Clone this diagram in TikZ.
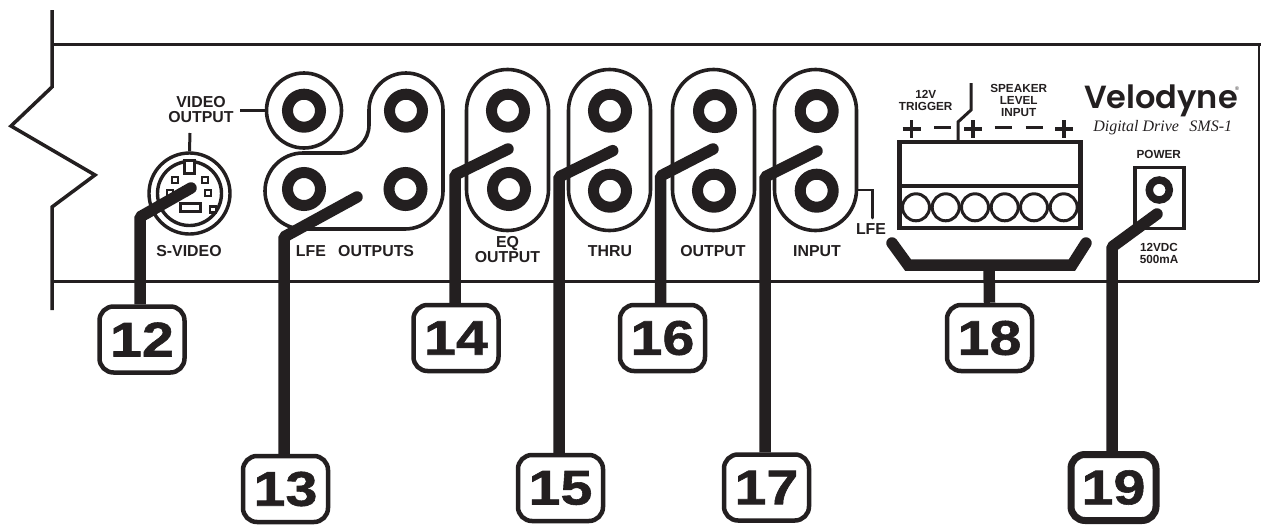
\documentclass[tikz,border=0pt]{standalone}
\usepackage{fontspec}
\usetikzlibrary{calc}
\setmainfont{Liberation Sans}
\newfontfamily\numfont[FakeStretch=1.18,FakeBold=1.2]{Liberation Sans Bold}
\newfontfamily\logofont{Poppins SemiBold}
\newfontfamily\italfont{Liberation Serif Italic}
\definecolor{ink}{HTML}{231F20}
\newlength\pxu \setlength\pxu{0.75pt}
\tikzset{
  ink lines/.style={draw=ink,line width=3.5\pxu},
  thin ink/.style={draw=ink,line width=2.6\pxu},
  leader/.style={draw=ink,line width=11.5\pxu,line join=bevel},
  tipped/.style={leader,line cap=round},
  jack/.style={circle,draw=ink,fill=white,line width=11\pxu,minimum size=33\pxu,inner sep=0pt},
  pill/.style={draw=ink,line width=3.6\pxu,rounded corners=41\pxu},
  label/.style={font=\fontsize{11.9}{11.3}\selectfont\bfseries,text=ink,inner sep=0pt,align=center},
  smalllabel/.style={font=\fontsize{8.8}{9}\selectfont\bfseries,text=ink,inner sep=0pt,align=center},
  numbox/.style={draw=ink,line width=4.5\pxu,rounded corners=14\pxu,fill=white,minimum width=85\pxu,minimum height=66\pxu,inner sep=0pt,font=\numfont\fontsize{36.5}{36.5}\selectfont,text=ink},
  screw/.style={circle,draw=ink,line width=3\pxu,minimum size=27\pxu,inner sep=0pt},
  pin/.style={draw=ink,line width=2.4\pxu,fill=white,minimum size=6\pxu,inner sep=0pt},
  sign/.style={draw=ink,line width=3.4\pxu},
}
\begin{document}
\begin{tikzpicture}[x=0.75pt,y=-0.75pt]
\useasboundingbox (0,0) rectangle (1261,525);
% chassis
\coordinate (a0) at (52,10); \coordinate (a1) at (52,87); \coordinate (a2) at (11,126);
\coordinate (a3) at (95,175); \coordinate (a4) at (52,207); \coordinate (a5) at (52,310);
\coordinate (t0) at (52,44.5); \coordinate (t1) at (1261,44.5);
\coordinate (b0) at (52,281.5); \coordinate (b1) at (1259,281.5);
\coordinate (r0) at (1259,44.5);
\draw[ink lines,line join=miter] (a0)--(a1)--(a2)--(a3)--(a4)--(a5);
\draw[ink lines] (t0)--(t1);
\draw[ink lines] (b0)--(b1);
\draw[draw=ink,line width=2\pxu] (r0)--(b1);
% video / LFE
\draw[pill,rounded corners=0pt] (304,110.5) circle[radius=37.5];
\draw[draw=ink,line width=3.6\pxu]
  (443,110) arc[start angle=0,end angle=-180,radius=37] -- (369,125)
  arc[start angle=0,end angle=90,radius=28] -- (303,153)
  arc[start angle=270,end angle=90,radius=38] -- (405,229)
  arc[start angle=90,end angle=0,radius=38] -- cycle;
\node[jack] (v1) at (304,110.7) {};
\node[jack] (l1) at (406,110.7) {};
\node[jack] (l2) at (304,189) {};
\node[jack] (l3) at (405.5,189) {};
% pills
\foreach \n/\x in {eq/507.5,thru/609.5,outp/713.5,inp/815.5}{
  \node[pill,minimum width=82\pxu,minimum height=161\pxu,inner sep=0pt,rectangle] (p\n) at (\x,150) {};
}
\node[jack] at (508,110.7) {}; \node[jack] at (509,189) {};
\node[jack] at (610,110.7) {}; \node[jack] at (610,190.7) {};
\node[jack] at (715,111) {}; \node[jack] at (714,190.7) {};
\node[jack] at (816.7,111) {}; \node[jack] at (816.7,190.7) {};
% s-video
\node[circle,draw=ink,line width=3.4\pxu,minimum size=81\pxu,inner sep=0pt] (sv) at (189.5,193.5) {};
\node[circle,draw=ink,line width=3.4\pxu,minimum size=64\pxu,inner sep=0pt] (svi) at (189.5,193.5) {};
\node[draw=ink,line width=3\pxu,fill=white,minimum width=10\pxu,minimum height=13\pxu,inner sep=0pt] (key) at (189.5,167) {};
\node[pin] at (175,180) {}; \node[pin] at (205,180) {};
\node[pin] at (170,193) {}; \node[pin] at (208,193) {};
\node[pin] at (213,209.5) {};
\node[draw=ink,line width=3\pxu,fill=white,minimum width=20\pxu,minimum height=8\pxu,inner sep=0pt] (slot) at (190,207) {};
% labels
\node[label] (vo) at (201,110) {VIDEO\\OUTPUT};
\coordinate (vo1) at (240,110.7); \coordinate (vo2) at (266,110.7);
\draw[ink lines,line width=3\pxu] (vo1)--(vo2);
\coordinate (sv1) at (190,133);
\draw[ink lines,line width=3\pxu] (sv1)--(sv.north);
\node[label] at (189,251) {S-VIDEO};
\node[label] at (355,251) {LFE\hspace{0.5em} OUTPUTS};
\node[label] at (507.5,249.5) {EQ\\OUTPUT};
\node[label] at (610,251) {THRU};
\node[label] at (713,251) {OUTPUT};
\node[label] at (817,251) {INPUT};
\node[label] (lfe) at (871,229) {LFE};
\coordinate (lf0) at (857,190); \coordinate (lf1) at (872.7,190); \coordinate (lf2) at (872.7,218);
\draw[thin ink,line cap=round] (lf0)--(lf1)--(lf2);
% terminal
\node[rectangle,draw=ink,line width=4.5\pxu,minimum width=181\pxu,minimum height=86\pxu,inner sep=0pt] (term) at (990,185) {};
\draw[draw=ink,line width=4.5\pxu] (term.west |- 0,186)--(term.east |- 0,186);
\foreach \x in {916,945.7,975,1004.7,1034,1063.7}{\node[screw] at (\x,207.3) {};}
\foreach \x in {911.7,973,1064}{\draw[sign] (\x-9,129)--(\x+9,129); \draw[sign] (\x,120)--(\x,138);}
\foreach \x in {942.7,1003,1034}{\draw[sign] (\x-8.5,127.7)--(\x+8.5,127.7);}
\coordinate (tr0) at (971,83); \coordinate (tr1) at (971,110); \coordinate (tr2) at (958,122); \coordinate (tr3) at (958,140);
\draw[ink lines,line width=3\pxu] (tr0)--(tr1)--(tr2)--(tr3);
\node[smalllabel] at (925.7,100) {12V\\TRIGGER};
\node[smalllabel] at (1018.7,100) {SPEAKER\\LEVEL\\INPUT};
% logo
\node[inner sep=0pt,text=ink,anchor=base,font=\logofont\fontsize{24}{24}\selectfont] (logo) at (1161,108.5) {Velodyne};
\node[inner sep=0pt,text=ink,font=\fontsize{4}{4}\selectfont] at (1237,89) {®};
\node[inner sep=0pt,text=ink,font=\italfont\fontsize{12}{12}\selectfont] at (1162.7,128) {Digital Drive\hspace{0.4em} SMS-1};
% power
\node[smalllabel] at (1158.7,154) {POWER};
\node[rectangle,draw=ink,line width=3.4\pxu,minimum width=49\pxu,minimum height=61\pxu,inner sep=0pt] (pw) at (1159.5,198) {};
\node[circle,draw=ink,fill=white,line width=7.5\pxu,minimum size=20\pxu,inner sep=0pt] (pj) at (1159.3,190) {};
\node[smalllabel] at (1159,253) {12VDC\\500mA};
% numbers
\node[numbox] (n12) at (142,339.5) {12};
\node[numbox] (n13) at (285.5,489) {13};
\node[numbox] (n14) at (456,338) {14};
\node[numbox] (n15) at (560.5,488) {15};
\node[numbox] (n16) at (662.5,338) {16};
\node[numbox] (n17) at (766.5,487.5) {17};
\node[numbox] (n18) at (989.5,338) {18};
\node[numbox,line width=7\pxu] (n19) at (1113.5,487.5) {19};
% leaders
\coordinate (k12) at (140,217); \coordinate (e12) at (191,188);
\coordinate (k13) at (284,237); \coordinate (e13) at (357,197);
\coordinate (k14) at (455,175); \coordinate (e14) at (508,149);
\coordinate (k15) at (559,177); \coordinate (e15) at (612.7,150.7);
\coordinate (k16) at (660.7,176); \coordinate (e16) at (713,149);
\coordinate (k17) at (765,177); \coordinate (e17) at (817,151);
\coordinate (k19) at (1112,247); \coordinate (e19) at (1157,214);
\foreach \n/\x in {12/140,13/284,14/455,15/559,16/660.7,17/765,19/1112}{
  \draw[leader] (n\n.north -| k\n) -- (k\n) -- ($(k\n)!0.9!(e\n)$);
  \draw[tipped] ($(k\n)!0.9!(e\n)$) -- (e\n);
}
\coordinate (br0) at (892,243); \coordinate (br1) at (908,265); \coordinate (br2) at (1072,265); \coordinate (br3) at (1086,243);
\coordinate (br4) at (989,265);
\draw[tipped,line join=miter] (br0)--(br1)--(br2)--(br3);
\draw[leader] (br4)--(n18.north);
\end{tikzpicture}
\end{document}
